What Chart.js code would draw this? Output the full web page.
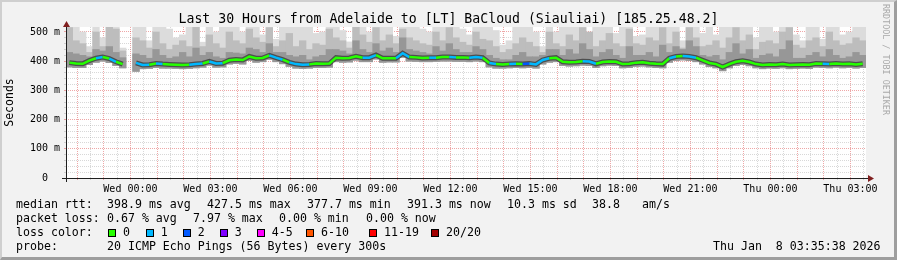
<!DOCTYPE html>
<html>
<head>
<meta charset="utf-8">
<script src="https://cdn.jsdelivr.net/npm/chart.js@4.4.1/dist/chart.umd.min.js"></script>
<style>
  html, body { margin: 0; padding: 0; background: #f2f2f2; }
  #wrap { position: relative; width: 897px; height: 260px; background: #f2f2f2; overflow: hidden;
          font-family: 'DejaVu Sans Mono', monospace; color: #000; }
  #c { position: absolute; left: 0; top: 0; }
  #frame { position: absolute; left: 0; top: 0; width: 897px; height: 260px; box-sizing: border-box;
           border-style: solid; border-width: 2px 3px 3px 2px; border-color: #cfcfcf #9e9e9e #9e9e9e #cfcfcf; }
  .t { position: absolute; white-space: pre; }
  #title { left: 0; width: 897px; top: 10.5px; text-align: center; font-size: 13.2px; line-height: 16px; }
  .leg { font-size: 11.6px; line-height: 14px; }
  .sw { position: absolute; width: 6px; height: 6px; border: 1px solid #000; }
  #rrd { left: 881px; top: 4px; writing-mode: vertical-rl; font-size: 8.4px; color: #a9a9a9; }
</style>
</head>
<body>
<div id="wrap">
  <canvas id="c" width="897" height="260"></canvas>
  <div id="frame"></div>
  <div class="t" id="title">Last 30 Hours from Adelaide to [LT] BaCloud (Siauliai) [185.25.48.2]</div>
  <div class="t" id="rrd">RRDTOOL / TOBI OETIKER</div>

  <div class="t leg" style="left:16px;top:197px">median rtt:</div>
  <div class="t leg" style="left:107px;top:197px">398.9 ms avg</div>
  <div class="t leg" style="left:207px;top:197px">427.5 ms max</div>
  <div class="t leg" style="left:307px;top:197px">377.7 ms min</div>
  <div class="t leg" style="left:407px;top:197px">391.3 ms now</div>
  <div class="t leg" style="left:507px;top:197px">10.3 ms sd</div>
  <div class="t leg" style="left:592px;top:197px">38.8</div>
  <div class="t leg" style="left:642px;top:197px">am/s</div>

  <div class="t leg" style="left:16px;top:211px">packet loss:</div>
  <div class="t leg" style="left:107px;top:211px">0.67 % avg</div>
  <div class="t leg" style="left:193px;top:211px">7.97 % max</div>
  <div class="t leg" style="left:279px;top:211px">0.00 % min</div>
  <div class="t leg" style="left:366px;top:211px">0.00 % now</div>

  <div class="t leg" style="left:16px;top:225px">loss color:</div>
  <div id="lossKey"></div>

  <div class="t leg" style="left:16px;top:239px">probe:</div>
  <div class="t leg" style="left:107px;top:239px">20 ICMP Echo Pings (56 Bytes) every 300s</div>
  <div class="t leg" style="left:713px;top:239px">Thu Jan  8 03:35:38 2026</div>
</div>

<script>
// time axis: hours relative to Wed 00:00, graph runs Tue 21:35 -> Thu 03:35
const START = -(2 + 25 / 60);
const STEP = 0.25;          // one bar = 15 minutes
const END = START + 30;

// median rtt (ms) per 15 minute slot, null = no data
const median = [
  395, 392, 391, 402, 410, 414, 409, 398, 390, null,
  394, 387, 388, 392, 390, 389, 388, 387, 388, 390,
  392, 399, 392, 393, 403, 406, 404, 416, 410, 411,
  420, 412, 405, 396, 390, 388, 389, 392, 391, 392,
  412, 410, 411, 417, 412, 412, 421, 410, 410, 410,
  427, 414, 413, 411, 412, 412, 414, 414, 413, 413,
  412, 414, 412, 394, 390, 389, 390, 391, 390, 392,
  389, 404, 410, 412, 398, 396, 397, 400, 399, 391,
  397, 399, 398, 390, 391, 395, 396, 393, 391, 390,
  410, 416, 418, 416, 412, 403, 394, 390, 380, 390,
  398, 401, 397, 390, 387, 389, 388, 390, 387, 388,
  389, 388, 392, 391, 390, 392, 390, 391, 389, 391
];

// lost pings (of 20) per slot
const loss = [
  0, 0, 0, 0, 0, 1, 0, 1, 0, 0,
  0, 1, 1, 0, 1, 0, 0, 0, 0, 1,
  1, 0, 1, 1, 0, 0, 0, 0, 0, 0,
  0, 1, 1, 0, 1, 1, 1, 0, 0, 0,
  0, 0, 0, 0, 0, 1, 1, 0, 0, 0,
  1, 1, 0, 0, 0, 1, 0, 0, 1, 0,
  0, 1, 1, 0, 1, 0, 0, 1, 0, 2,
  1, 1, 1, 0, 0, 0, 0, 0, 1, 1,
  0, 0, 0, 0, 0, 0, 0, 0, 0, 0,
  0, 1, 0, 1, 1, 0, 0, 0, 0, 0,
  0, 0, 0, 0, 0, 0, 0, 0, 0, 0,
  0, 0, 0, 0, 1, 0, 0, 0, 0, 0
];

// smoke: fastest ping per slot
const smokeLow = [
  380, 378, 378, 388, 396, 400, 395, 385, 377, null,
  365, 374, 375, 378, 376, 376, 375, 374, 375, 377,
  379, 386, 379, 380, 390, 392, 390, 402, 396, 398,
  406, 398, 391, 382, 376, 375, 376, 378, 378, 379,
  398, 396, 397, 403, 398, 398, 407, 396, 397, 397,
  413, 400, 399, 398, 398, 399, 400, 400, 399, 399,
  398, 400, 398, 380, 376, 376, 377, 378, 377, 378,
  376, 390, 396, 398, 385, 383, 384, 386, 385, 378,
  384, 386, 385, 377, 378, 382, 383, 380, 378, 377,
  396, 402, 404, 402, 398, 390, 381, 377, 367, 377,
  385, 388, 384, 377, 374, 376, 375, 377, 374, 375,
  376, 375, 379, 378, 377, 379, 377, 378, 376, 378
];

// smoke: slowest ping per slot
const smokeMax = [
  530, 530, 500, 450, 530, 480, 530, 530, 445, null,
  530, 530, 470, 530, 530, 510, 480, 490, 530, 530,
  465, 530, 500, 530, 530, 530, 500, 530, 530, 490,
  530, 475, 530, 530, 530, 520, 530, 495, 500, 530,
  530, 505, 466, 530, 530, 500, 530, 530, 530, 485,
  530, 530, 530, 510, 500, 530, 530, 530, 530, 510,
  490, 530, 530, 530, 505, 455, 470, 530, 530, 530,
  500, 450, 530, 500, 530, 530, 530, 530, 485, 530,
  530, 530, 495, 530, 530, 485, 490, 530, 530, 530,
  530, 530, 470, 530, 530, 495, 530, 490, 530, 530,
  530, 530, 530, 480, 530, 530, 500, 530, 530, 490,
  470, 530, 530, 475, 530, 530, 490, 500, 530, 530
];

// smoke: upper quarter of pings
const smokeP75 = [
  515, 470, 460, 430, 500, 450, 520, 510, 435, null,
  480, 470, 445, 500, 460, 440, 455, 470, 450, 520,
  450, 490, 460, 445, 500, 470, 460, 510, 480, 465,
  515, 450, 470, 495, 450, 470, 440, 460, 455, 510,
  480, 470, 445, 520, 490, 465, 515, 470, 490, 460,
  510, 480, 470, 460, 455, 500, 470, 515, 480, 465,
  455, 500, 475, 470, 450, 430, 440, 460, 480, 465,
  450, 430, 500, 460, 450, 490, 470, 515, 500, 450,
  470, 495, 460, 450, 510, 460, 455, 480, 470, 515,
  460, 500, 445, 515, 480, 450, 455, 470, 445, 480,
  515, 470, 490, 440, 465, 470, 460, 500, 515, 455,
  445, 470, 480, 450, 500, 470, 455, 460, 480, 470
];

// smoke: pings just above the median
const smokeP60 = [
  430, 425, 420, 415, 440, 435, 450, 430, 412, null,
  425, 420, 410, 440, 420, 410, 415, 430, 415, 445,
  420, 430, 415, 410, 430, 428, 425, 445, 440, 430,
  460, 430, 430, 420, 415, 420, 405, 415, 420, 440,
  440, 435, 425, 470, 440, 430, 460, 435, 445, 430,
  480, 440, 435, 430, 425, 450, 435, 460, 440, 430,
  430, 450, 440, 420, 410, 405, 405, 420, 430, 415,
  415, 420, 440, 440, 420, 440, 425, 460, 440, 415,
  430, 440, 420, 410, 450, 420, 420, 430, 415, 455,
  430, 450, 440, 470, 450, 420, 415, 420, 405, 430,
  460, 425, 440, 410, 420, 425, 415, 440, 470, 410,
  410, 420, 430, 415, 440, 420, 410, 415, 430, 420
];

const lossLabels = ['0', '1', '2', '3', '4-5', '6-10', '11-19', '20/20'];
const lossColors = ['#26ff00', '#00b8ff', '#0059ff', '#7e00ff', '#ff00ff', '#ff5500', '#ff0000', '#a10000'];

function lossClass(n) {
  if (n <= 3) return n;
  if (n <= 5) return 4;
  if (n <= 10) return 5;
  if (n <= 19) return 6;
  return 7;
}

// loss colour key under the graph
const keyX = [108, 145.7, 182.7, 219.7, 256.7, 306, 369, 431];
const key = document.getElementById('lossKey');
lossLabels.forEach((lbl, i) => {
  const sw = document.createElement('div');
  sw.className = 'sw';
  sw.style.left = keyX[i] + 'px';
  sw.style.top = '229px';
  sw.style.background = lossColors[i];
  key.appendChild(sw);
  const tx = document.createElement('div');
  tx.className = 't leg';
  tx.style.left = (keyX[i] + 15) + 'px';
  tx.style.top = '225px';
  tx.textContent = lbl;
  key.appendChild(tx);
});

const times = median.map((_, i) => START + STEP * (i + 0.5));

function band(top) {
  return times.map((t, i) => ({ x: t, y: top[i] == null ? null : [smokeLow[i], top[i]] }));
}
const medPoints = times.map((t, i) => ({ x: t, y: median[i] }));

const MGRID = 'rgba(222,79,79,0.5)';
const GRID = 'rgba(143,143,143,0.35)';

function dayLabel(v) {
  const day = v < 0 ? 'Tue' : (v < 24 ? 'Wed' : 'Thu');
  const h = ((v % 24) + 24) % 24;
  return day + ' ' + String(h).padStart(2, '0') + ':00';
}

// white canvas behind the plot
const plotBack = {
  id: 'plotBack',
  beforeDraw(chart) {
    const { ctx, chartArea: a } = chart;
    ctx.save();
    ctx.fillStyle = '#ffffff';
    ctx.fillRect(a.left, a.top, a.right - a.left, a.bottom - a.top);
    ctx.restore();
  }
};

const axisArrows = {
  id: 'axisArrows',
  afterDraw(chart) {
    const { ctx, chartArea: a } = chart;
    const y0 = Math.round(a.bottom) + 0.5;
    const x0 = Math.round(a.left) + 0.5;
    ctx.save();
    ctx.strokeStyle = '#1f1f1f';
    ctx.lineWidth = 1;
    ctx.beginPath();
    ctx.moveTo(a.left - 4, y0); ctx.lineTo(a.right + 4, y0);
    ctx.moveTo(x0, a.bottom + 4); ctx.lineTo(x0, a.top - 2);
    ctx.stroke();
    ctx.fillStyle = '#801f1f';
    ctx.beginPath();
    ctx.moveTo(a.right + 8, y0); ctx.lineTo(a.right + 2, y0 - 3.5); ctx.lineTo(a.right + 2, y0 + 3.5);
    ctx.closePath(); ctx.fill();
    ctx.beginPath();
    ctx.moveTo(x0, a.top - 6); ctx.lineTo(x0 - 3.5, a.top); ctx.lineTo(x0 + 3.5, a.top);
    ctx.closePath(); ctx.fill();
    ctx.restore();
  }
};

Chart.defaults.font.family = "'DejaVu Sans Mono', monospace";
Chart.defaults.color = '#000';

const barStyle = { type: 'bar', grouped: false, barPercentage: 1.0, categoryPercentage: 1.0, borderWidth: 0 };

new Chart(document.getElementById('c').getContext('2d'), {
  type: 'bar',
  data: {
    datasets: [
      { ...barStyle, label: 'max', data: band(smokeMax), backgroundColor: '#dcdcdc', order: 5 },
      { ...barStyle, label: 'p75', data: band(smokeP75), backgroundColor: '#bdbdbd', order: 4 },
      { ...barStyle, label: 'p60', data: band(smokeP60), backgroundColor: '#979797', order: 3 },
      {
        type: 'line', label: 'shadow', data: medPoints, borderColor: 'rgba(30,30,30,0.6)',
        borderWidth: 5, pointRadius: 0, spanGaps: false, order: 2
      },
      {
        type: 'line', label: 'median rtt', data: medPoints, borderWidth: 2.5, pointRadius: 0,
        spanGaps: false, order: 1, borderColor: lossColors[0],
        segment: { borderColor: ctx => lossColors[lossClass(loss[ctx.p1DataIndex])] }
      }
    ]
  },
  options: {
    responsive: false,
    animation: false,
    devicePixelRatio: 1,
    layout: { padding: { top: 27, right: 31, left: 0, bottom: 0 } },
    plugins: { legend: { display: false }, tooltip: { enabled: false } },
    scales: {
      x: {
        type: 'linear', min: START, max: END, offset: false, z: 1,
        afterFit: s => { s.height = 82; },
        afterBuildTicks: s => {
          const t = [];
          for (let v = -2; v <= 27.5; v += 0.5) t.push({ value: v });
          s.ticks = t;
        },
        grid: {
          offset: false, lineWidth: 1, tickLength: 2,
          color: c => (c.tick && c.tick.value % 1 === 0) ? MGRID : GRID,
          tickColor: c => (c.tick && c.tick.value % 1 === 0) ? MGRID : GRID
        },
        border: { display: false, dash: [1, 1] },
        ticks: {
          autoSkip: false, maxRotation: 0, padding: 3, font: { size: 10 },
          callback: v => (v % 3 === 0 ? dayLabel(v) : '')
        }
      },
      y: {
        type: 'linear', min: 0, max: 517, z: 1,
        afterFit: s => { s.width = 66; },
        afterBuildTicks: s => {
          const t = [];
          for (let v = 0; v <= 500; v += 20) t.push({ value: v });
          s.ticks = t;
        },
        grid: {
          lineWidth: 1, tickLength: 2,
          color: c => (c.tick && c.tick.value % 100 === 0) ? MGRID : GRID,
          tickColor: c => (c.tick && c.tick.value % 100 === 0) ? MGRID : GRID
        },
        border: { display: false, dash: [1, 1] },
        title: { display: true, text: 'Seconds', font: { size: 11.5 }, padding: { top: 3, bottom: 0 } },
        ticks: {
          autoSkip: false, padding: 4, font: { size: 10 },
          callback: v => (v % 100 === 0 ? (v === 0 ? '0  ' : v + ' m') : '')
        }
      }
    }
  },
  plugins: [plotBack, axisArrows]
});
</script>
</body>
</html>
